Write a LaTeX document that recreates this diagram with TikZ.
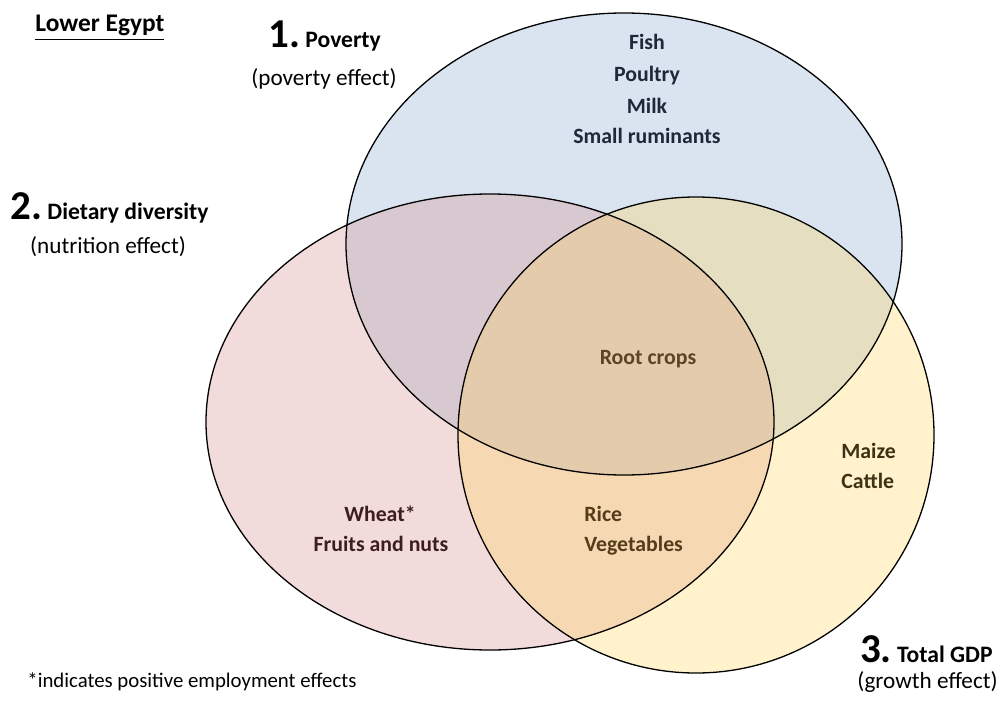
\documentclass[tikz,border=0pt]{standalone}
\usepackage{fontspec}
\setmainfont{Carlito}
\usetikzlibrary{positioning}

\definecolor{povblue}{RGB}{132,162,205}
\definecolor{dietpink}{RGB}{212,138,135}
\definecolor{gdpyellow}{RGB}{255,212,85}
\definecolor{bluetext}{RGB}{30,40,58}
\definecolor{roottext}{RGB}{92,68,40}
\definecolor{ricetext}{RGB}{85,60,26}
\definecolor{wheattext}{RGB}{60,30,32}
\definecolor{maizetext}{RGB}{63,50,20}

\tikzset{
  vennfill/.style={fill opacity=0.3},
  vennline/.style={draw=black,line width=0.65pt},
  crop/.style={font=\fontsize{10.9}{13}\selectfont\bfseries,inner sep=0pt},
  head/.style={font=\fontsize{11.8}{14}\selectfont\bfseries,inner sep=0pt},
  sub/.style={font=\fontsize{11.6}{14}\selectfont,inner sep=0pt}
}
\newcommand{\bignum}[1]{{\fontsize{20.5}{24}\selectfont #1}}

\begin{document}
\begin{tikzpicture}[x=0.5pt,y=-0.5pt]
\useasboundingbox (0,0) rectangle (1001,706);

% circles, fills first
\fill[vennfill,povblue] (624,244) ellipse [x radius=278,y radius=231];
\fill[vennfill,dietpink] (490,422) ellipse [x radius=284,y radius=228];
\fill[vennfill,gdpyellow] (696,435) ellipse [x radius=238,y radius=238];
\draw[vennline] (624,244) ellipse [x radius=278,y radius=231];
\draw[vennline] (490,422) ellipse [x radius=284,y radius=228];
\draw[vennline] (696,435) ellipse [x radius=238,y radius=238];

% headings
\node (title) at (35,32) [anchor=base west,font=\fontsize{12.7}{15}\selectfont\bfseries,inner sep=0pt] {\underline{Lower Egypt}};
\node (pov) at (268,48) [head,anchor=base west] {\bignum{1.}~Poverty};
\node (povsub) at (324,86) [sub,anchor=base] {(poverty effect)};
\node (diet) at (10,220) [head,anchor=base west] {\bignum{2.}~Dietary diversity};
\node (dietsub) at (108,253) [sub,anchor=base] {(nutrition effect)};
\node (gdp) at (993,662) [head,anchor=base east] {\bignum{3.}~Total GDP};
\node (gdpsub) at (998,688) [sub,anchor=base east] {(growth effect)};

% blue only
\node (fish) at (647,50) [crop,anchor=base,text=bluetext] {Fish};
\node (poultry) at (647,82) [crop,anchor=base,text=bluetext] {Poultry};
\node (milk) at (647,113) [crop,anchor=base,text=bluetext] {Milk};
\node (rumin) at (647,143) [crop,anchor=base,text=bluetext] {Small ruminants};

% centre
\node (root) at (648,364) [crop,anchor=base,text=roottext] {Root crops};

% pink and yellow
\node (rice) at (584,521) [crop,anchor=base west,text=ricetext] {Rice};
\node (veg) at (584,551) [crop,anchor=base west,text=ricetext] {Vegetables};

% pink only
\node (wheat) at (380,521) [crop,anchor=base,text=wheattext] {Wheat*};
\node (fruit) at (381,551) [crop,anchor=base,text=wheattext] {Fruits and nuts};

% yellow only
\node (maize) at (841,458) [crop,anchor=base west,text=maizetext] {Maize};
\node (cattle) at (841,488) [crop,anchor=base west,text=maizetext] {Cattle};

\node (note) at (27,687) [sub,anchor=base west,font=\fontsize{10.4}{12}\selectfont] {*indicates positive employment effects};
\end{tikzpicture}
\end{document}
